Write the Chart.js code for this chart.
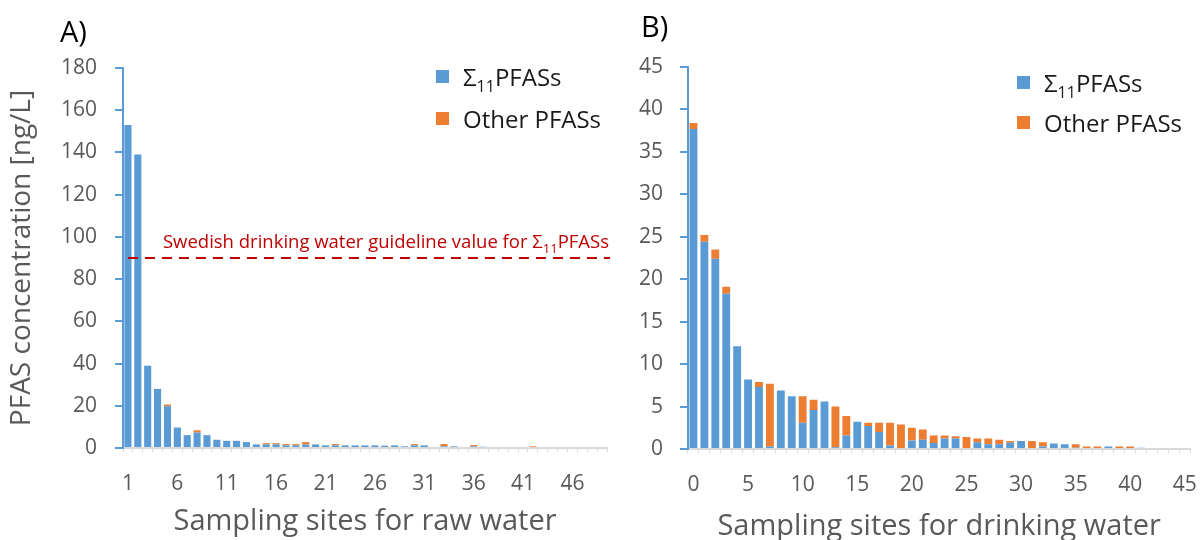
<!DOCTYPE html>
<html>
<head>
<meta charset="utf-8">
<script src="https://cdn.jsdelivr.net/npm/chart.js@4.4.1/dist/chart.umd.min.js"></script>
<style>
    body { margin: 0; background: #fff; font-family: 'Open Sans', sans-serif; }
    #wrap { position: relative; width: 1203px; height: 540px; overflow: hidden; }
    canvas { position: absolute; top: 0; }
    #chart-a { left: 0; }
    #chart-b { left: 620px; }
    .tag { position: absolute; font-size: 29px; line-height: 1; color: #000; }
    .legend { position: absolute; font-size: 24px; color: #1a1a1a; }
    .legend .row { display: flex; align-items: center; height: 42px; white-space: nowrap; }
    .legend .sw { width: 13px; height: 13px; margin-right: 14px; flex: none; }
    .legend sub { font-size: 16px; line-height: 0; vertical-align: -6px; }
</style>
</head>
<body>
<div id="wrap">
    <canvas id="chart-a" width="620" height="540"></canvas>
    <canvas id="chart-b" width="583" height="540"></canvas>
    <div class="tag" style="left:60px; top:16px;">A)</div>
    <div class="tag" style="left:641px; top:11px;">B)</div>
    <div class="legend" style="left:436px; top:55px;">
        <div class="row"><span class="sw" style="background:#5b9bd5"></span><span>&Sigma;<sub>11</sub>PFASs</span></div>
        <div class="row"><span class="sw" style="background:#ed7d31"></span><span>Other PFASs</span></div>
    </div>
    <div class="legend" style="left:1017px; top:62px;">
        <div class="row" style="height:40px"><span class="sw" style="background:#5b9bd5"></span><span>&Sigma;<sub>11</sub>PFASs</span></div>
        <div class="row" style="height:40px"><span class="sw" style="background:#ed7d31"></span><span>Other PFASs</span></div>
    </div>
</div>
<script>
// A) raw water sampling sites
const rawSites = ['1','2','3','4','5','6','7','8','9','10','11','12','13','14','15','16','17','18','19','20',
    '21','22','23','24','25','26','27','28','29','30','31','32','33','34','35','36','37','38','39','40',
    '41','42','43','44','45','46','47','48','49'];
const rawTickLabels = ['1','6','11','16','21','26','31','36','41','46'];
const rawSum11 = [153, 139, 39, 28, 19.8, 9.7, 6.1, 7.3, 6.1, 3.9, 3.4, 3.4, 2.8, 1.7, 1.7, 1.7, 1.25, 1.25, 1.7, 1.7,
    1.25, 1.25, 1.25, 1.25, 1.25, 1.25, 1.1, 1.25, 0.8, 1.25, 1.25, 0, 0.8, 0.8, 0, 0.8, 0.6, 0, 0, 0,
    0, 0, 0, 0, 0, 0, 0, 0, 0];
const rawOther = [0, 0, 0, 0, 0.8, 0, 0, 1.1, 0, 0, 0, 0, 0, 0, 0.6, 0.6, 0.6, 0.6, 1.1, 0,
    0, 0.6, 0, 0, 0, 0, 0, 0, 0, 0.6, 0, 0, 1.1, 0, 0, 0.6, 0, 0, 0, 0,
    0, 0.8, 0, 0, 0, 0, 0, 0, 0];
const guidelineValue = 90;

// B) drinking water sampling sites
const drinkSites = ['0','1','2','3','4','5','6','7','8','9','10','11','12','13','14','15','16','17','18','19',
    '20','21','22','23','24','25','26','27','28','29','30','31','32','33','34','35','36','37','38','39',
    '40','41','42','43','44','45'];
const drinkTickLabels = ['0','5','10','15','20','25','30','35','40','45'];
const drinkSum11 = [37.7, 24.4, 22.4, 18.3, 12.1, 8.2, 7.3, 0.3, 6.9, 6.2, 3.1, 4.6, 5.6, 0.2, 1.6, 3.2, 2.7, 2.0, 0.4, 0,
    1.0, 1.1, 0.7, 1.25, 1.25, 0, 0.8, 0.55, 0.55, 0.75, 0.95, 0, 0.3, 0.65, 0.55, 0.15, 0, 0, 0.3, 0,
    0, 0.15, 0, 0, 0, 0];
const drinkOther = [0.7, 0.8, 1.1, 0.8, 0, 0, 0.6, 7.4, 0, 0, 3.1, 1.2, 0, 4.8, 2.3, 0, 0.4, 1.1, 2.7, 2.9,
    1.5, 1.2, 0.9, 0.35, 0.25, 1.4, 0.45, 0.7, 0.55, 0.2, 0, 0.95, 0.5, 0, 0, 0.4, 0.3, 0.3, 0, 0.3,
    0.3, 0, 0, 0, 0, 0];

const BLUE = '#5b9bd5';
const ORANGE = '#ed7d31';
const GREY_TEXT = '#595959';

Chart.defaults.font.family = "'Open Sans', sans-serif";

// dashed guideline with its red caption, placed through the chart's scales
const guidelinePlugin = {
    id: 'guideline',
    afterDatasetsDraw(chart) {
        const { ctx, chartArea, scales } = chart;
        const y = scales.y.getPixelForValue(guidelineValue);
        const x0 = scales.x.getPixelForValue(0);
        ctx.save();
        ctx.strokeStyle = '#c00000';
        ctx.lineWidth = 2;
        ctx.setLineDash([10, 7]);
        ctx.beginPath();
        ctx.moveTo(x0, y);
        ctx.lineTo(chartArea.right + 3, y);
        ctx.stroke();

        ctx.fillStyle = '#c00000';
        ctx.textBaseline = 'alphabetic';
        let x = x0 + 35;
        const base = y - 10;
        ctx.font = "18.5px 'Open Sans'";
        const part1 = 'Swedish drinking water guideline value for \u03A3';
        ctx.fillText(part1, x, base);
        x += ctx.measureText(part1).width;
        ctx.font = "13px 'Open Sans'";
        ctx.fillText('11', x, base + 5);
        x += ctx.measureText('11').width;
        ctx.font = "18.5px 'Open Sans'";
        ctx.fillText('PFASs', x, base);
        ctx.restore();
    }
};

function makeChart(id, cfg) {
    const labels = cfg.labels;
    return new Chart(document.getElementById(id), {
        type: 'bar',
        data: {
            labels: labels,
            datasets: [
                { label: '\u03A311PFASs', data: cfg.sum11, backgroundColor: BLUE, borderWidth: 0 },
                { label: 'Other PFASs', data: cfg.other, backgroundColor: ORANGE, borderWidth: 0 }
            ]
        },
        options: {
            responsive: false,
            animation: false,
            datasets: { bar: { categoryPercentage: 1, barPercentage: 0.72 } },
            layout: { padding: { top: cfg.top, right: cfg.right, left: 0, bottom: 0 } },
            plugins: { legend: { display: false }, tooltip: { enabled: false } },
            scales: {
                x: {
                    stacked: true,
                    grid: { offset: true, drawOnChartArea: false, color: '#d9d9d9', tickLength: 4 },
                    border: { color: '#d9d9d9', width: 2 },
                    ticks: {
                        autoSkip: false, maxRotation: 0, minRotation: 0,
                        // tall line box pushes the labels down without widening the side padding
                        color: GREY_TEXT, font: { size: 21, lineHeight: 2.45 }, padding: 6,
                        callback: (v, i) => cfg.shown.includes(labels[i]) ? labels[i] : ''
                    },
                    title: { display: true, text: cfg.xTitle, color: GREY_TEXT, font: { size: 29 }, padding: { top: 0, bottom: cfg.xTitlePad } },
                    afterFit: s => { s.height = cfg.xHeight; }
                },
                y: {
                    stacked: true,
                    min: 0,
                    max: cfg.yMax,
                    ticks: { stepSize: cfg.yStep, color: GREY_TEXT, font: { size: 21 }, padding: cfg.yPad },
                    grid: { drawOnChartArea: false, color: BLUE, tickLength: 8, lineWidth: 2 },
                    border: { color: BLUE, width: 2 },
                    title: { display: !!cfg.yTitle, text: cfg.yTitle || '', color: GREY_TEXT, font: { size: 28 }, padding: { top: 5, bottom: 0 } },
                    afterFit: s => { s.width = cfg.yWidth; }
                }
            }
        },
        plugins: cfg.plugins || []
    });
}

document.addEventListener('DOMContentLoaded', function () {
    makeChart('chart-a', {
        labels: rawSites, shown: rawTickLabels, sum11: rawSum11, other: rawOther,
        yMax: 180, yStep: 20, yWidth: 123, yPad: 18, top: 68, right: 13, xHeight: 92, xTitlePad: 1,
        xTitle: 'Sampling sites for raw water', yTitle: 'PFAS concentration [ng/L]',
        plugins: [guidelinePlugin]
    });
    makeChart('chart-b', {
        labels: drinkSites, shown: drinkTickLabels, sum11: drinkSum11, other: drinkOther,
        yMax: 45, yStep: 5, yWidth: 68, yPad: 17, top: 67, right: 12, xHeight: 91, xTitlePad: -4,
        xTitle: 'Sampling sites for drinking water'
    });
});
</script>
</body>
</html>
